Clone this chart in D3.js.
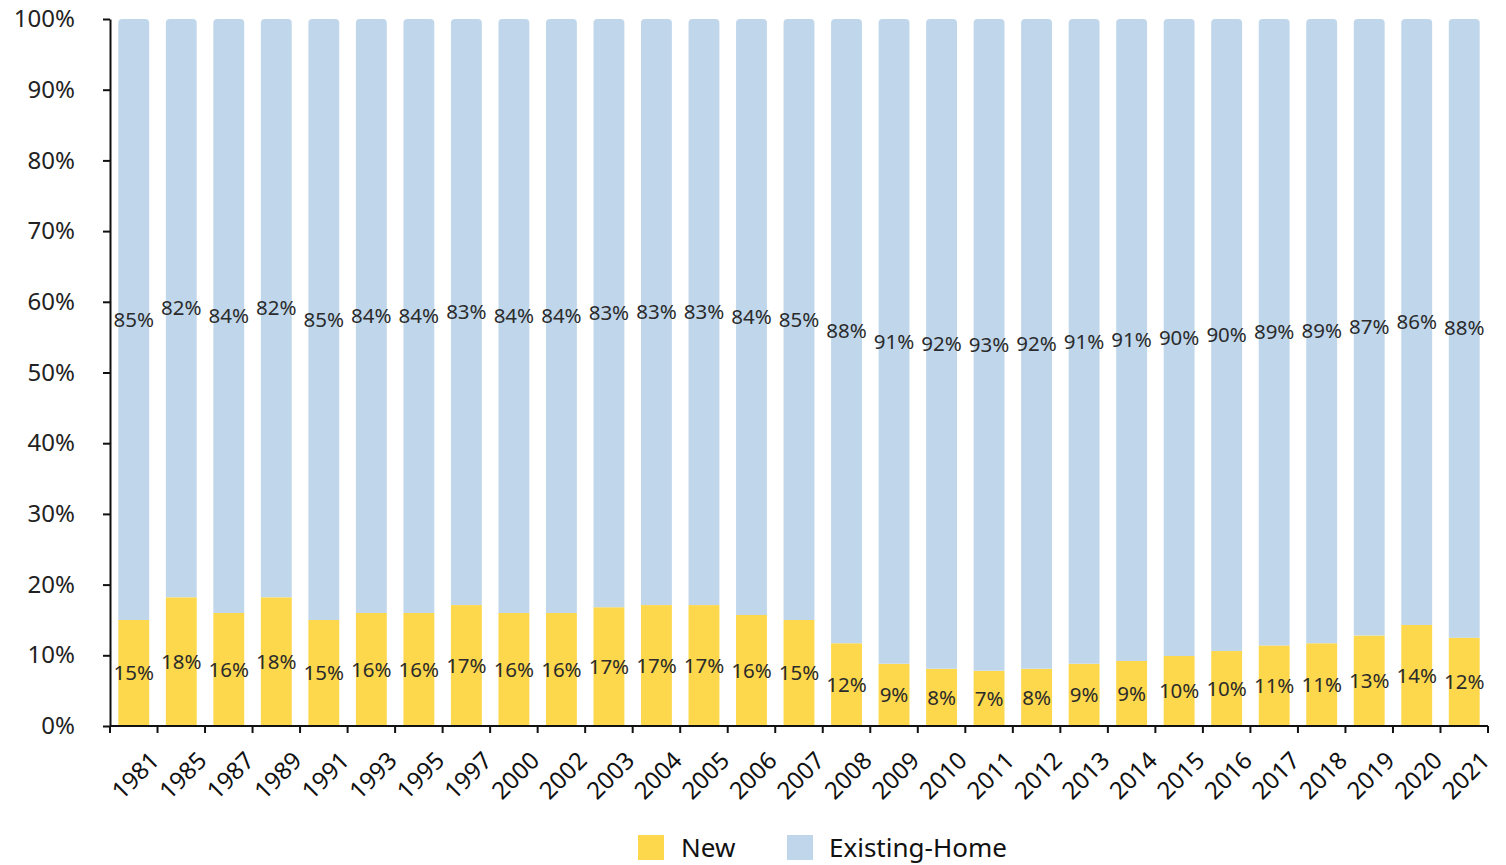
<!DOCTYPE html>
<html>
<head>
<meta charset="utf-8">
<script src="https://cdn.jsdelivr.net/npm/d3@7"></script>
<style>
  html, body { margin: 0; padding: 0; background: #fff; }
  svg { display: block; }
  text { font-family: "Noto Sans", sans-serif; }
</style>
</head>
<body>
<svg id="chart" width="1506" height="865"></svg>
<script>
const years = ["1981","1985","1987","1989","1991","1993","1995","1997","2000","2002","2003","2004","2005","2006","2007","2008","2009","2010","2011","2012","2013","2014","2015","2016","2017","2018","2019","2020","2021"];
// share of new homes (%)
const newShare = [15.0,18.2,16.0,18.2,15.0,16.0,16.0,17.1,16.0,16.0,16.8,17.1,17.1,15.7,15.0,11.7,8.8,8.1,7.8,8.1,8.8,9.2,9.9,10.6,11.4,11.7,12.8,14.3,12.5];
const existingShare = newShare.map(v => 100 - v);
const newLabels = ["15%","18%","16%","18%","15%","16%","16%","17%","16%","16%","17%","17%","17%","16%","15%","12%","9%","8%","7%","8%","9%","9%","10%","10%","11%","11%","13%","14%","12%"];
const existingLabels = ["85%","82%","84%","82%","85%","84%","84%","83%","84%","84%","83%","83%","83%","84%","85%","88%","91%","92%","93%","92%","91%","91%","90%","90%","89%","89%","87%","86%","88%"];
const yTicks = [0,10,20,30,40,50,60,70,80,90,100];
const seriesNames = ["New","Existing-Home"];
const colors = {"New":"#FDD84C","Existing-Home":"#C0D7EB"};

const svg = d3.select("#chart");
const mLeft = 110, mRight = 1488, mTop = 19, mBottom = 726;

const x = d3.scaleBand().domain(years).range([mLeft, mRight]).paddingInner(0.35).paddingOuter(0.175);
const y = d3.scaleLinear().domain([0, 100]).range([mBottom, mTop]);

const data = years.map((yr, i) => ({year: yr, New: newShare[i], Existing: existingShare[i], nl: newLabels[i], el: existingLabels[i]}));

// New bars
svg.append("g").selectAll("rect").data(data).join("rect")
  .attr("x", d => x(d.year))
  .attr("width", x.bandwidth())
  .attr("y", d => y(d.New))
  .attr("height", d => y(0) - y(d.New))
  .attr("fill", colors["New"]);

// Existing bars with rounded top corners
const r = 4;
svg.append("g").selectAll("path").data(data).join("path")
  .attr("d", d => {
    const x0 = x(d.year), w = x.bandwidth();
    const yTop = y(d.New + d.Existing), yBot = y(d.New);
    return `M${x0},${yBot} L${x0},${yTop + r} Q${x0},${yTop} ${x0 + r},${yTop} L${x0 + w - r},${yTop} Q${x0 + w},${yTop} ${x0 + w},${yTop + r} L${x0 + w},${yBot} Z`;
  })
  .attr("fill", colors["Existing-Home"]);

// labels
const lblG = svg.append("g").attr("font-size", 20.5).attr("fill", "#2b2b2b").attr("text-anchor", "middle");
lblG.selectAll("text.n").data(data).join("text").attr("class","n")
  .attr("x", d => x(d.year) + x.bandwidth() / 2)
  .attr("y", d => y(d.New / 2))
  .attr("dy", "0.35em")
  .text(d => d.nl);
lblG.selectAll("text.e").data(data).join("text").attr("class","e")
  .attr("x", d => x(d.year) + x.bandwidth() / 2)
  .attr("y", d => y(d.New + d.Existing / 2))
  .attr("dy", "0.35em")
  .text(d => d.el);

// Y axis
const yAxis = svg.append("g").attr("transform", `translate(${mLeft},0)`)
  .call(d3.axisLeft(y).tickValues(yTicks).tickFormat(d => d + "%").tickSize(7).tickSizeOuter(0));
yAxis.select(".domain").attr("stroke", "#111").attr("stroke-width", 2);
yAxis.selectAll(".tick line").attr("stroke", "#111").attr("stroke-width", 2);
yAxis.selectAll(".tick text").attr("font-size", 24).attr("fill", "#222").attr("x", -35)
  .style("font-family", '"Noto Sans", sans-serif');

// X axis
const xAxisG = svg.append("g");
xAxisG.append("line").attr("x1", mLeft).attr("x2", mRight).attr("y1", mBottom).attr("y2", mBottom)
  .attr("stroke", "#111").attr("stroke-width", 2);
const boundaries = years.map(yr => x(yr) - x.step() * x.paddingInner() / 2).concat([mRight]);
xAxisG.selectAll("line.t").data(boundaries).join("line").attr("class","t")
  .attr("x1", d => d).attr("x2", d => d).attr("y1", mBottom).attr("y2", mBottom + 7)
  .attr("stroke", "#111").attr("stroke-width", 2);
xAxisG.selectAll("text").data(years).join("text")
  .attr("transform", d => `translate(${x(d) + x.bandwidth() / 2 + 27},${mBottom + 36}) rotate(-45)`)
  .attr("text-anchor", "end")
  .attr("font-size", 24)
  .attr("fill", "#111")
  .text(d => d);

// Legend
const legend = svg.append("g");
const legendItems = [{name: seriesNames[0], x: 638, tx: 681}, {name: seriesNames[1], x: 787, tx: 829}];
legend.selectAll("rect").data(legendItems).join("rect")
  .attr("x", d => d.x).attr("y", 835).attr("width", 26).attr("height", 25)
  .attr("fill", d => colors[d.name]);
legend.selectAll("text").data(legendItems).join("text")
  .attr("x", d => d.tx).attr("y", 857)
  .attr("font-size", 26).attr("fill", "#111")
  .text(d => d.name);
</script>
</body>
</html>
